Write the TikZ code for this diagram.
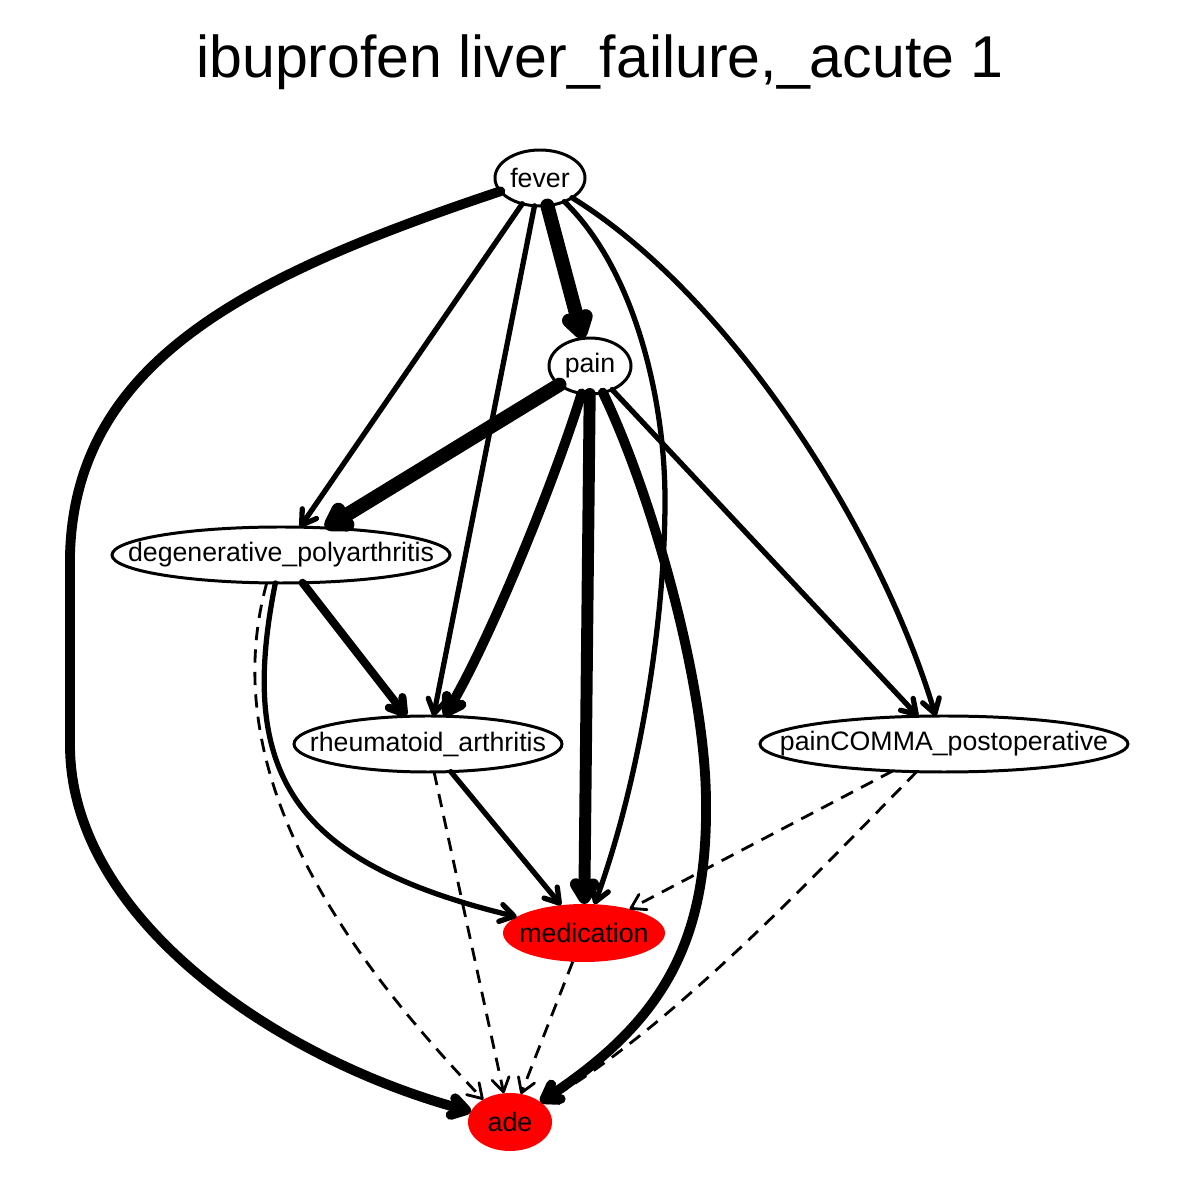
\documentclass[tikz,border=0pt]{standalone}
\usepackage{fontspec}
\setmainfont{Liberation Sans}
\usetikzlibrary{shapes.geometric,arrows.meta}
\newcommand{\nlab}[1]{\makebox[0pt]{#1}}

\begin{document}
\begin{tikzpicture}[
    >={Straight Barb[length=3.9pt,width=4.9pt,round]},
    nd/.style={ellipse, draw, line width=0.85pt, fill=white, inner sep=0pt,
      outer sep=0pt, minimum height=0.56cm, font=\fontsize{7.6}{9}\selectfont},
    hit/.style={nd, draw=none, fill=red, minimum height=0.58cm},
    eA/.style={->, line width=1.5pt, line cap=round},
    eB/.style={->, line width=2.3pt, line cap=round},
    eC/.style={->, line width=2.8pt, line cap=round},
    eD/.style={->, line width=3.4pt, line cap=round},
    eE/.style={->, line width=4pt, line cap=round},
    dsh/.style={->, line width=0.8pt, dash pattern=on 3.8pt off 2.6pt}
  ]
            \useasboundingbox (0,0) rectangle (12,12);
            \node[font=\fontsize{16.8}{20}\selectfont] (title) at (6.00,11.38) {ibuprofen liver\_failure,\_acute 1};
            % nodes
            \node[nd, minimum width=0.90cm] (fever) at (5.40,10.22) {\nlab{fever}};
            \node[nd, minimum width=0.82cm] (pain) at (5.90,8.34) {\nlab{pain}};
            \node[nd, minimum width=3.38cm] (dp) at (2.81,6.45) {\nlab{degenerative\_polyarthritis}};
            \node[nd, minimum width=2.68cm] (ra) at (4.28,4.56) {\nlab{rheumatoid\_arthritis}};
            \node[nd, minimum width=3.68cm] (pp) at (9.44,4.56) {\nlab{painCOMMA\_postoperative}};
            \node[hit, minimum width=1.62cm] (med) at (5.84,2.67) {\nlab{medication}};
            \node[hit, minimum width=0.84cm] (ade) at (5.10,0.78) {\nlab{ade}};
            % dashed edges
            \draw[dsh] (dp.243) .. controls (2.15,4.30) and (3.40,2.50) .. (ade.140);
            \draw[dsh] (ra) -- (ade);
            \draw[dsh] (pp) -- (med);
            \draw[dsh] (pp) .. controls (8.20,3.30) and (6.70,1.70) .. (ade);
            \draw[dsh] (med) -- (ade);
            % solid edges
            \draw[eA] (fever) -- (dp);
            \draw[eA] (fever) -- (ra);
            \draw[eA] (fever) .. controls (6.35,9.30) and (6.65,8.00) .. (6.65,7.00)
                              .. controls (6.65,5.80) and (6.40,4.20) .. (med);
            \draw[eA] (fever) .. controls (7.30,9.05) and (8.80,6.70) .. (pp);
            \draw[eA] (pain) -- (pp);
            \draw[eA] (ra) -- (med);
            \draw[eA] (dp) .. controls (2.37,4.26) and (2.93,3.37) .. (med);
            \draw[eB] (dp) -- (ra);
            \draw[eC] (fever) .. controls (2.50,9.25) and (0.75,8.40) .. (0.70,6.45) -- (0.70,4.55)
                              .. controls (0.70,2.80) and (2.80,1.40) .. (ade);
            \draw[eC] (pain) .. controls (5.55,7.20) and (4.90,5.60) .. (ra);
            \draw[eC] (pain) .. controls (6.50,7.10) and (7.05,5.20) .. (7.06,4.00)
                             .. controls (7.08,2.60) and (6.65,1.80) .. (ade);
            \draw[eD] (pain) -- (med);
            \draw[eE] (fever) -- (pain);
            \draw[eE] (pain) -- (dp);
        \end{tikzpicture}
\end{document}
